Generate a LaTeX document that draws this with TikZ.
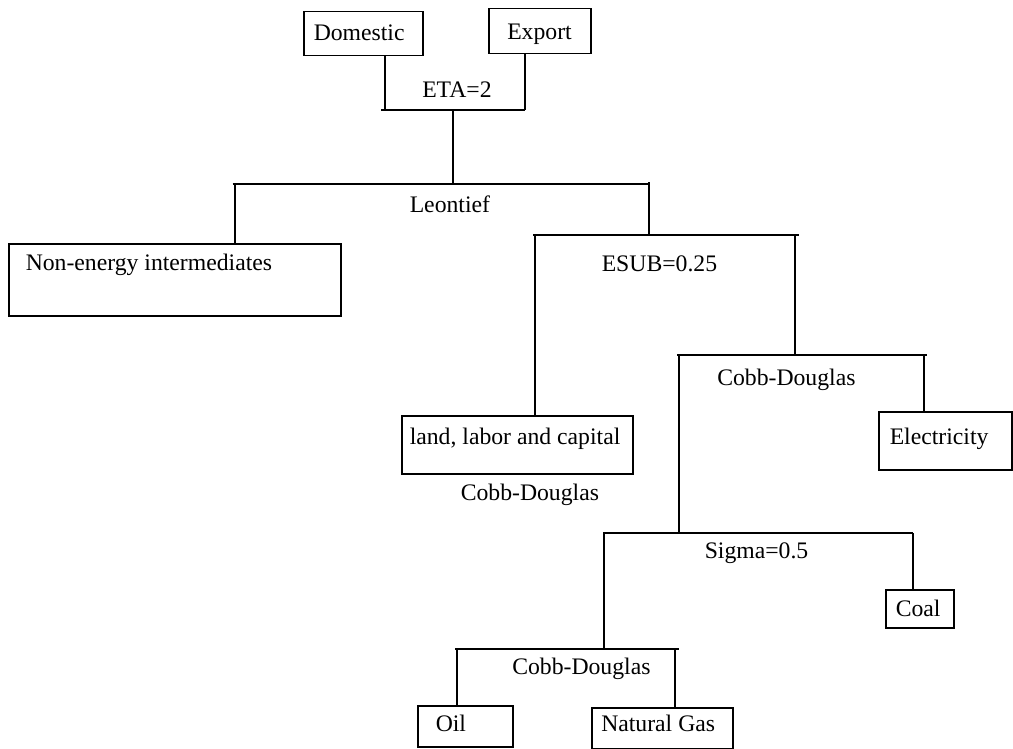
\documentclass[tikz,border=0pt]{standalone}
\usepackage{fontspec}
\setmainfont{Liberation Serif}
\begin{document}
\begin{tikzpicture}[x=1pt,y=-1pt,line width=1.5pt,
  box/.style={draw,rectangle,anchor=north west,inner sep=0pt,line width=1.5pt},
  lbl/.style={anchor=base west,inner sep=0pt,font=\fontsize{23.7}{28}\selectfont}]
\useasboundingbox (0,0) rectangle (1013,749);
% boxes
\node[box,minimum width=119pt,minimum height=44pt] (dom) at (303,11) {};
\node[box,minimum width=102pt,minimum height=45pt] (exp) at (488,8) {};
\node[box,minimum width=332pt,minimum height=72pt] (nonen) at (8,243) {};
\node[box,minimum width=231pt,minimum height=58pt] (land) at (401,415) {};
\node[box,minimum width=133pt,minimum height=58pt] (elec) at (878,411) {};
\node[box,minimum width=68pt,minimum height=38pt] (coal) at (885,589) {};
\node[box,minimum width=95pt,minimum height=41pt] (oil) at (417,705) {};
\node[box,minimum width=141pt,minimum height=41pt] (gas) at (591,707) {};
% texts
\node[lbl] (domT) at (313,41) {Domestic};
\node[lbl] (expT) at (506.5,39.5) {Export};
\node[lbl] (eta) at (421.5,98) {ETA=2};
\node[lbl] (leon) at (409,212.5) {Leontief};
\node[lbl] (nonenT) at (25,270.5) {Non-energy intermediates};
\node[lbl] (esub) at (601,271.5) {ESUB=0.25};
\node[lbl] (cd1) at (716.5,385.5) {Cobb-Douglas};
\node[lbl] (landT) at (409,444) {land, labor and capital};
\node[lbl] (cd2) at (460,500) {Cobb-Douglas};
\node[lbl] (elecT) at (889,444) {Electricity};
\node[lbl] (sigma) at (704,558) {Sigma=0.5};
\node[lbl] (coalT) at (895,616.5) {Coal};
\node[lbl] (cd3) at (511.5,674) {Cobb-Douglas};
\node[lbl] (oilT) at (435,731.5) {Oil};
\node[lbl] (gasT) at (600.5,731.5) {Natural Gas};
% junction coordinates
\coordinate (d1) at (385,110);
\coordinate (e1) at (525,110);
\coordinate (h0L) at (381,110);
\coordinate (t0) at (453,110);
\coordinate (t1) at (453,184);
\coordinate (h1L) at (232.5,184);
\coordinate (h1R) at (649,184);
\coordinate (n1) at (235,184);
\coordinate (r1t) at (649,182.5);
\coordinate (r1b) at (649,235);
\coordinate (h2L) at (533,235);
\coordinate (h2R) at (799,235);
\coordinate (l2) at (535,235);
\coordinate (r2t) at (795,235);
\coordinate (r2b) at (795,355);
\coordinate (h3L) at (677,355);
\coordinate (h3R) at (927,355);
\coordinate (l3t) at (679,355);
\coordinate (l3b) at (679,533);
\coordinate (r3) at (924,355);
\coordinate (h4L) at (603,533);
\coordinate (h4R) at (913,533);
\coordinate (r4) at (913,533);
\coordinate (l4t) at (604,533);
\coordinate (l4b) at (604,649);
\coordinate (h5L) at (455,649);
\coordinate (h5R) at (679,649);
\coordinate (o5) at (457,649);
\coordinate (g5) at (675,649);
% connectors
\draw (d1 |- dom.south) -- (d1);
\draw (e1 |- exp.south) -- (e1);
\draw (h0L) -- (e1);
\draw (t0) -- (t1);
\draw (h1L) -- (h1R);
\draw (n1) -- (n1 |- nonen.north);
\draw (r1t) -- (r1b);
\draw (h2L) -- (h2R);
\draw (l2) -- (l2 |- land.north);
\draw (r2t) -- (r2b);
\draw (h3L) -- (h3R);
\draw (r3) -- (r3 |- elec.north);
\draw (l3t) -- (l3b);
\draw (h4L) -- (h4R);
\draw (r4) -- (r4 |- coal.north);
\draw (l4t) -- (l4b);
\draw (h5L) -- (h5R);
\draw (o5) -- (o5 |- oil.north);
\draw (g5) -- (g5 |- gas.north);
\end{tikzpicture}
\end{document}
